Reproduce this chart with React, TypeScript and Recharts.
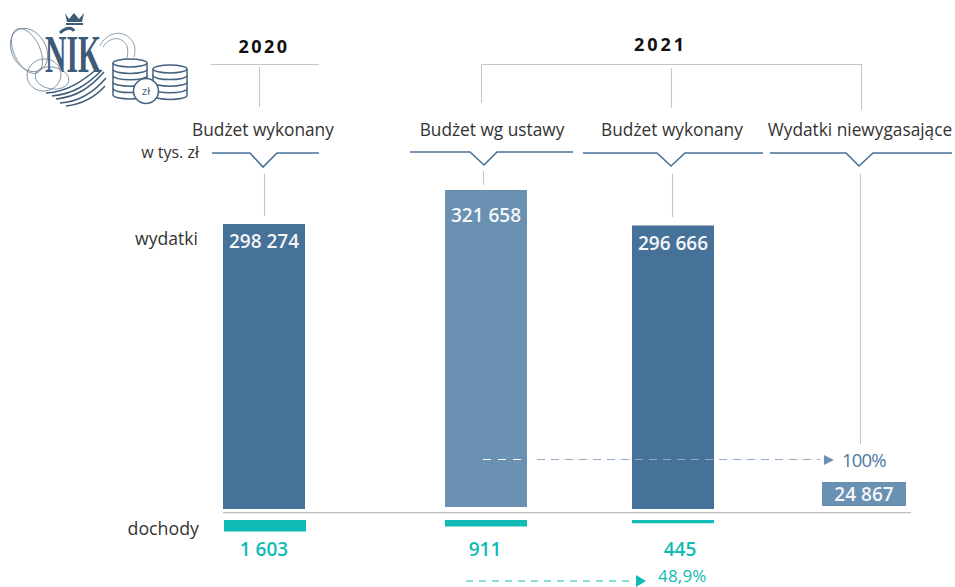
import React from "react";
import { BarChart, Bar, XAxis, YAxis, LabelList, Cell } from "recharts";

// ---- values (thousands of zł) ----
const categories = ["Budżet wykonany 2020", "Budżet wg ustawy 2021", "Budżet wykonany 2021", "Wydatki niewygasające 2021"];
const titles = ["Budżet wykonany", "Budżet wg ustawy", "Budżet wykonany", "Wydatki niewygasające"];
const expenditures = [298274, 321658, 296666, 24867];
const expenditureLabels = ["298 274", "321 658", "296 666", "24 867"];
const incomes = [1603, 911, 445];
const incomeLabels = ["1 603", "911", "445"];

// ---- layout (the reference is a schematic: each group of bars has its own scale) ----
const DARK = "#467199";
const LIGHT = "#6a90b2";
const TEAL = "#10bbb5";
const TEXT = "#333333";
const GREY = "#c6c6c6";
const FONT = "'Open Sans', sans-serif";
const columnLayout = [
  { left: 223, width: 82, bottom: 509, plot: 285, max: 298274, fill: DARK, offset: 11, labelPos: "insideTop", incomeLeft: 224, titleX: 263, incomeX: 264 },
  { left: 445, width: 82, bottom: 507, plot: 317, max: 321658, fill: LIGHT, offset: 19, labelPos: "insideTop", incomeLeft: 445, titleX: 492, incomeX: 485 },
  { left: 632, width: 82, bottom: 509, plot: 285, max: 298274, fill: DARK, offset: 11, labelPos: "insideTop", incomeLeft: 632, titleX: 672, incomeX: 680 },
  { left: 822, width: 84, bottom: 506, plot: 24, max: 24867, fill: LIGHT, offset: 0, labelPos: "center", incomeLeft: 0, titleX: 860, incomeX: 0 },
];
const INCOME_TOP = 520;
const INCOME_PLOT = 11.5;
const INCOME_MAX = 1603;

function ExpenditureColumn({ index }: { index: number }) {
  const c = columnLayout[index];
  const data = [{ category: categories[index], value: expenditures[index], label: expenditureLabels[index] }];
  return (
    <div style={{ position: "absolute", left: c.left, top: c.bottom - c.plot, width: c.width, height: c.plot }}>
      <BarChart width={c.width} height={c.plot} data={data} margin={{ top: 0, right: 0, bottom: 0, left: 0 }} barCategoryGap={0}>
        <XAxis dataKey="category" hide />
        <YAxis hide domain={[0, c.max]} />
        <Bar dataKey="value" isAnimationActive={false} fill={c.fill}>
          <Cell fill={c.fill} />
          <LabelList
            dataKey="label"
            position={c.labelPos as any}
            offset={c.offset}
            fill="#f4f6f8"
            style={{ fontFamily: FONT, fontWeight: 600, fontSize: 19 }}
          />
        </Bar>
      </BarChart>
    </div>
  );
}

function IncomeColumn({ index }: { index: number }) {
  const c = columnLayout[index];
  const data = [{ category: categories[index], value: incomes[index] }];
  return (
    <div style={{ position: "absolute", left: c.incomeLeft, top: INCOME_TOP, width: c.width, height: INCOME_PLOT }}>
      <BarChart width={c.width} height={INCOME_PLOT} data={data} margin={{ top: 0, right: 0, bottom: 0, left: 0 }} barCategoryGap={0}>
        <XAxis dataKey="category" hide />
        <YAxis hide reversed domain={[0, INCOME_MAX]} />
        <Bar dataKey="value" isAnimationActive={false} fill={TEAL} />
      </BarChart>
    </div>
  );
}

function CoinStack({ x, y, rx, bands, step }: { x: number; y: number; rx: number; bands: number; step: number }) {
  const ry = 4;
  const h = bands * step;
  const stroke = "#44617f";
  return (
    <g fill="#fff" stroke={stroke} strokeWidth={1.5}>
      <path d={`M${x - rx} ${y} V${y + h} A${rx} ${ry} 0 0 0 ${x + rx} ${y + h} V${y}`} />
      <ellipse cx={x} cy={y} rx={rx} ry={ry} />
      {Array.from({ length: bands - 1 }).map((_, i) => (
        <path key={i} fill="none" d={`M${x - rx} ${y + step * (i + 1)} A${rx} ${ry} 0 0 0 ${x + rx} ${y + step * (i + 1)}`} />
      ))}
    </g>
  );
}

function Logo() {
  const navy = "#3d5a78";
  return (
    <g>
      {/* flourishes */}
      <g fill="none" stroke="#6f879d" strokeWidth={0.8}>
        <ellipse cx={27} cy={51} rx={13} ry={24} transform="rotate(-25 27 51)" />
        <ellipse cx={29} cy={50} rx={17} ry={23} transform="rotate(-30 29 50)" />
        <ellipse cx={44} cy={75} rx={17} ry={16} transform="rotate(-15 44 75)" />
        <ellipse cx={52} cy={78} rx={17} ry={11} transform="rotate(10 52 78)" />
        <path d="M100 46 C106 32 124 28 133 42 C136 48 135 52 134 57" />
        <path d="M103 47 C110 36 122 36 127 46 C128 50 128 54 127 58" />
      </g>
      {/* swooshes */}
      <g fill="none" stroke={navy} strokeWidth={1.5}>
        <path d="M56 99 C76 97 90 88 104 72" />
        <path d="M52 96 C74 94 88 84 102 70" />
        <path d="M60 103 C80 102 94 92 106 78" />
        <path d="M46 93 C68 92 84 80 98 68" />
        <path d="M66 106 C84 104 96 96 105 86" />
      </g>
      {/* crown */}
      <path d="M65 13 L69 19 L74 13 L79 19 L84 13 L82 22 H67 Z" fill={navy} />
      <rect x={66} y={23} width={17} height={2} fill={navy} />
      {/* letters */}
      <text x={73} y={72} textAnchor="middle" fontFamily="'Liberation Serif', serif" fontWeight={700} fontSize={52} fill={navy} textLength={56} lengthAdjust="spacingAndGlyphs">
        NIK
      </text>
      <path d="M60 33 C66 27 72 27 74 31" fill="none" stroke={navy} strokeWidth={3} />
      {/* coins */}
      <CoinStack x={130} y={63} rx={17} bands={5} step={6.4} />
      <CoinStack x={170} y={69} rx={17} bands={4} step={6.6} />
      <circle cx={146} cy={91} r={12.5} fill="#fff" stroke="#44617f" strokeWidth={1.5} />
      <text x={146} y={95} textAnchor="middle" fontFamily={FONT} fontSize={11.5} fill="#44617f">zł</text>
    </g>
  );
}

const Notch = ({ x1, x2, x3, x4, tip, y, y2 }: { x1: number; x2: number; x3: number; x4: number; tip: number; y: number; y2: number }) => (
  <polyline points={`${x1},${y} ${x2},${y} ${tip},${y2} ${x3},${y} ${x4},${y}`} fill="none" stroke={DARK} strokeWidth={1.6} />
);

function Overlay() {
  const vLines = [
    [259, 67, 107], [481, 64, 103], [671, 68, 108], [861, 64, 110],
    [264, 174, 216], [483, 171, 185], [672, 174, 217], [860, 174, 444],
  ];
  return (
    <svg width={955} height={587} style={{ position: "absolute", left: 0, top: 0 }}>
      <Logo />
      <text x={264} y={53} textAnchor="middle" fontFamily={FONT} fontWeight={700} fontSize={18} letterSpacing={2.4} fill="#111">2020</text>
      <text x={660.5} y={51} textAnchor="middle" fontFamily={FONT} fontWeight={700} fontSize={18} letterSpacing={2.9} fill="#111">2021</text>
      <line x1={211} x2={319} y1={64.5} y2={64.5} stroke={GREY} strokeWidth={1} />
      <line x1={481} x2={861} y1={64.5} y2={64.5} stroke={GREY} strokeWidth={1} />
      {vLines.map(([x, a, b], i) => (
        <line key={i} x1={x + 0.5} x2={x + 0.5} y1={a} y2={b} stroke={GREY} strokeWidth={1.1} />
      ))}
      {titles.map((t, i) => (
        <text key={t + i} x={columnLayout[i].titleX} y={136} textAnchor="middle" fontFamily={FONT} fontSize={17.3} fill={TEXT}>{t}</text>
      ))}
      <Notch x1={212} x2={250} tip={263} x3={277} x4={319} y={153} y2={167} />
      <Notch x1={410} x2={470} tip={484} x3={497} x4={573} y={152} y2={165} />
      <Notch x1={583} x2={657} tip={671} x3={685} x4={763} y={153} y2={166} />
      <Notch x1={770} x2={846} tip={859} x3={873} x4={952} y={153} y2={166} />
      <text x={199} y={158} textAnchor="end" fontFamily={FONT} fontSize={16} fill={TEXT}>w tys. zł</text>
      <text x={198} y={245} textAnchor="end" fontFamily={FONT} fontSize={17.6} fill={TEXT}>wydatki</text>
      <text x={199} y={535} textAnchor="end" fontFamily={FONT} fontSize={17.8} fill={TEXT}>dochody</text>
      <line x1={223} x2={911} y1={512.7} y2={512.7} stroke="#bdbdbd" strokeWidth={1.2} />
      {incomeLabels.map((t, i) => (
        <text key={t} x={columnLayout[i].incomeX} y={556} textAnchor="middle" fontFamily={FONT} fontWeight={600} fontSize={19} fill={TEAL}>{t}</text>
      ))}
      {/* dashed arrows */}
      <line x1={483} x2={527} y1={459.5} y2={459.5} stroke="#fff" strokeWidth={1} strokeDasharray="8 7" />
      <line x1={537} x2={820} y1={459.5} y2={459.5} stroke="#8fabc6" strokeWidth={1.2} strokeDasharray="8 6" />
      <polygon points="824,455 834,460 824,465" fill={LIGHT} />
      <text x={842} y={466.5} fontFamily={FONT} fontWeight={400} fontSize={18.5} fill="#4d789f" letterSpacing={-0.8}>100%</text>
      <line x1={466} x2={633} y1={581} y2={581} stroke={TEAL} strokeWidth={1.2} strokeDasharray="7 6" />
      <polygon points="636,575 646,581 636,587" fill={TEAL} />
      <text x={658} y={582} fontFamily={FONT} fontWeight={400} fontSize={17} fill={TEAL} letterSpacing={0.2}>48,9%</text>
    </svg>
  );
}

export default function App() {
  return (
    <div style={{ position: "absolute", left: 0, top: 0, width: 955, height: 587, overflow: "hidden", background: "#fff" }}>
      <style>{`.recharts-surface{overflow:visible}`}</style>
      {expenditures.map((_, i) => <ExpenditureColumn key={i} index={i} />)}
      {incomes.map((_, i) => <IncomeColumn key={i} index={i} />)}
      <Overlay />
    </div>
  );
}
